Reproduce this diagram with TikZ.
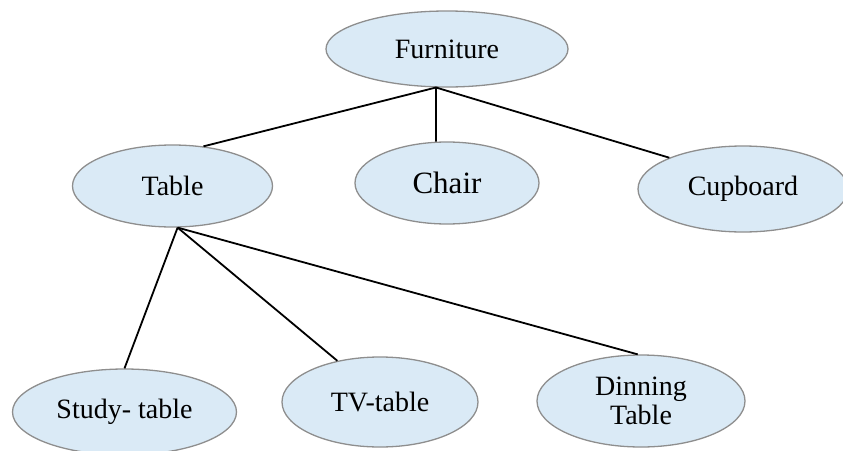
\documentclass[tikz,border=0pt]{standalone}
\usepackage{fontspec}
\setmainfont{Liberation Serif}
\usetikzlibrary{shapes.geometric}
\definecolor{bubblefill}{HTML}{DAEAF6}
\definecolor{bubbleedge}{HTML}{8E8E8E}
\tikzset{
  bubble/.style={ellipse, draw=bubbleedge, line width=1.3pt, fill=bubblefill,
    inner sep=0pt, font=\fontsize{28}{29}\selectfont, align=center},
  link/.style={draw=black, line width=1.8pt}
}
\begin{document}
\begin{tikzpicture}[x=1pt, y=-1pt]
  \useasboundingbox (0,0) rectangle (843,450);
  \clip (0,0) rectangle (843,450);
  % top level
  \node[bubble, minimum width=242pt, minimum height=76pt] (furn) at (447,49) {Furniture};
  % second level
  \node[bubble, minimum width=200pt, minimum height=82pt] (tbl) at (172.5,186) {Table};
  \node[bubble, minimum width=184pt, minimum height=82pt, font=\fontsize{31}{33}\selectfont] (chair) at (447,183) {Chair};
  \node[bubble, minimum width=210pt, minimum height=86pt] (cup) at (743,189) {Cupboard};
  % third level
  \node[bubble, minimum width=224pt, minimum height=86pt] (study) at (124.5,412) {Study- table};
  \node[bubble, minimum width=196pt, minimum height=90pt] (tv) at (380,402) {TV-table};
  \node[bubble, minimum width=208pt, minimum height=92pt] (dine) at (641,401) {Dinning\\Table};
  % connectors
  \coordinate (fj) at (furn.254);
  \coordinate (tj) at (tbl.277);
  \draw[link] (fj) -- (tbl.52);
  \draw[link] (fj) -- (chair.105);
  \draw[link] (fj) -- (cup.157);
  \draw[link] (tj) -- (study.90);
  \draw[link] (tj) -- (tv.136);
  \draw[link] (tj) -- (dine.94);
\end{tikzpicture}
\end{document}
